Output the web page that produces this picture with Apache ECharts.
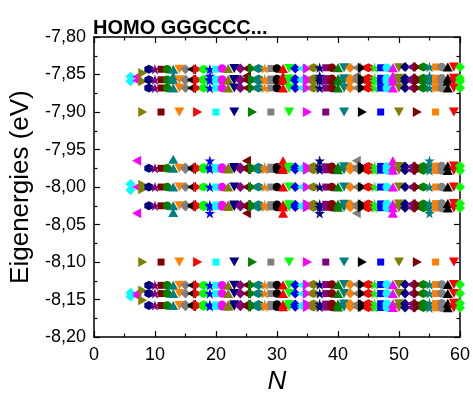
<!DOCTYPE html>
<html><head><meta charset="utf-8">
<script src="https://cdn.jsdelivr.net/npm/echarts@6/dist/echarts.min.js"></script>
<style>html,body{margin:0;padding:0;background:#fff}#c{width:473px;height:400px}</style>
</head><body><div id="c"></div>
<script>
// N values (one series per N)
const N = [6,7,8,9,10,11,12,13,14,15,16,17,18,19,20,21,22,23,24,25,26,27,28,29,30,31,32,33,34,35,36,37,38,39,40,41,42,43,44,45,46,47,48,49,50,51,52,53,54,55,56,57,58,59,60];
// eigen-energy levels (eV), one entry per N above (null = no level)
// rows grouped: N6-8 | N9-14 | N15-24 | N25-34 | N35-44 | N45-54 | N55-60
const lvA = [null,null,null,
  -7.843,-7.843,-7.843,-7.843,-7.843,-7.843,
  -7.843,-7.843,-7.843,-7.843,-7.843,-7.843,-7.842,-7.842,-7.842,-7.842,
  -7.842,-7.842,-7.842,-7.842,-7.842,-7.842,-7.842,-7.842,-7.842,-7.842,
  -7.842,-7.841,-7.841,-7.841,-7.841,-7.841,-7.841,-7.841,-7.841,-7.841,
  -7.841,-7.841,-7.841,-7.841,-7.841,-7.841,-7.840,-7.840,-7.840,-7.840,
  -7.840,-7.840,-7.840,-7.840,-7.840,-7.840];
const lvB1 = [-7.853,-7.853,-7.848,
  -7.857,-7.857,-7.857,-7.857,-7.857,-7.857,
  -7.8565,-7.8565,-7.8565,-7.8565,-7.8565,-7.8565,-7.8565,-7.8565,-7.8565,-7.8565,
  -7.856,-7.856,-7.856,-7.856,-7.856,-7.856,-7.856,-7.856,-7.856,-7.856,
  -7.8555,-7.8555,-7.8555,-7.8555,-7.8555,-7.8555,-7.8555,-7.8555,-7.8555,-7.8555,
  -7.855,-7.855,-7.855,-7.855,-7.855,-7.855,-7.855,-7.855,-7.855,-7.855,
  -7.855,-7.855,-7.855,-7.855,-7.855,-7.855];
const lvB2 = [null,null,null,
  null,null,null,null,null,null,
  -7.8575,-7.8575,-7.8575,-7.8575,-7.8575,-7.8575,-7.8575,-7.8575,-7.8575,-7.8575,
  -7.858,-7.858,-7.858,-7.858,-7.858,-7.858,-7.858,-7.858,-7.858,-7.858,
  -7.8585,-7.8585,-7.8585,-7.8585,-7.8585,-7.8585,-7.8585,-7.8585,-7.8585,-7.8585,
  -7.859,-7.859,-7.859,-7.859,-7.859,-7.859,-7.859,-7.859,-7.859,-7.859,
  -7.859,-7.859,-7.859,-7.859,-7.859,-7.859];
const lvBx = [null,null,null,
  null,null,null,null,-7.852,null,
  null,null,null,null,-7.852,null,null,null,null,null,
  -7.852,null,null,null,null,null,-7.852,null,null,null,
  null,null,-7.852,null,null,null,null,null,-7.852,null,
  null,null,null,null,-7.852,null,null,null,null,null,
  -7.852,null,null,null,null,null];
const lvC = [-7.859,-7.858,-7.859,
  -7.868,-7.868,-7.868,-7.868,-7.868,-7.868,
  -7.868,-7.868,-7.868,-7.868,-7.868,-7.868,-7.868,-7.868,-7.868,-7.868,
  -7.868,-7.868,-7.868,-7.868,-7.868,-7.868,-7.868,-7.868,-7.868,-7.868,
  -7.868,-7.868,-7.868,-7.868,-7.868,-7.868,-7.868,-7.868,-7.868,-7.868,
  -7.868,-7.868,-7.868,-7.868,-7.868,-7.868,-7.868,-7.868,-7.868,-7.868,
  -7.868,-7.868,-7.868,-7.868,-7.868,-7.868];
const lvD = [null,null,-7.900,
  null,null,-7.900,null,null,-7.900,
  null,null,-7.900,null,null,-7.900,null,null,-7.900,null,
  null,-7.900,null,null,-7.900,null,null,-7.900,null,null,
  -7.900,null,null,-7.900,null,null,-7.900,null,null,-7.900,
  null,null,-7.900,null,null,-7.900,null,null,-7.900,null,
  null,-7.900,null,null,-7.900,null];
const lvEx = [null,-7.965,null,
  null,null,null,null,-7.963,null,
  null,null,null,null,-7.965,null,null,null,null,null,
  -7.965,null,null,null,null,null,-7.965,null,null,null,
  null,null,-7.965,null,null,null,null,null,-7.965,null,
  null,null,null,null,-7.965,null,null,null,null,null,
  -7.965,null,null,null,null,null];
const lvE1 = [null,null,null,
  -7.975,-7.975,-7.975,-7.975,-7.975,-7.975,
  -7.974,-7.974,-7.974,-7.974,-7.974,-7.974,-7.974,-7.974,-7.974,-7.974,
  -7.9735,-7.9735,-7.9735,-7.9735,-7.9735,-7.9735,-7.9735,-7.9735,-7.9735,-7.9735,
  -7.973,-7.973,-7.973,-7.973,-7.973,-7.973,-7.973,-7.973,-7.973,-7.973,
  -7.9725,-7.9725,-7.9725,-7.9725,-7.9725,-7.9725,-7.9725,-7.9725,-7.9725,-7.9725,
  -7.972,-7.972,-7.972,-7.972,-7.972,-7.972];
const lvE2 = [null,null,null,
  null,null,null,null,null,null,
  -7.976,-7.976,-7.976,-7.976,-7.976,-7.976,-7.976,-7.976,-7.976,-7.976,
  -7.9765,-7.9765,-7.9765,-7.9765,-7.9765,-7.9765,-7.9765,-7.9765,-7.9765,-7.9765,
  -7.977,-7.977,-7.977,-7.977,-7.977,-7.977,-7.977,-7.977,-7.977,-7.977,
  -7.9775,-7.9775,-7.9775,-7.9775,-7.9775,-7.9775,-7.9775,-7.9775,-7.9775,-7.9775,
  -7.978,-7.978,-7.978,-7.978,-7.978,-7.978];
const lvF = [-7.996,-8.000,-7.997,
  -8.000,-8.000,-8.000,-8.000,-8.000,-8.000,
  -8.000,-8.000,-8.000,-8.000,-8.000,-8.000,-8.000,-8.000,-8.000,-8.000,
  -8.000,-8.000,-8.000,-8.000,-8.000,-8.000,-8.000,-8.000,-8.000,-8.000,
  -8.000,-8.000,-8.000,-8.000,-8.000,-8.000,-8.000,-8.000,-8.000,-8.000,
  -8.000,-8.000,-8.000,-8.000,-8.000,-8.000,-8.000,-8.000,-8.000,-8.000,
  -8.000,-8.000,-8.000,-8.000,-8.000,-8.000];
const lvF2 = [-8.004,null,-8.003,
  null,null,null,null,null,null,
  null,null,null,null,null,null,null,null,null,null,
  null,null,null,null,null,null,null,null,null,null,
  null,null,null,null,null,null,null,null,null,null,
  null,null,null,null,null,null,null,null,null,null,
  null,null,null,null,null,null];
const lvG1 = [null,null,null,
  null,null,null,null,null,null,
  -8.024,-8.024,-8.024,-8.024,-8.024,-8.024,-8.024,-8.024,-8.024,-8.024,
  -8.0235,-8.0235,-8.0235,-8.0235,-8.0235,-8.0235,-8.0235,-8.0235,-8.0235,-8.0235,
  -8.023,-8.023,-8.023,-8.023,-8.023,-8.023,-8.023,-8.023,-8.023,-8.023,
  -8.0225,-8.0225,-8.0225,-8.0225,-8.0225,-8.0225,-8.0225,-8.0225,-8.0225,-8.0225,
  -8.022,-8.022,-8.022,-8.022,-8.022,-8.022];
const lvG2 = [null,null,null,
  -8.025,-8.025,-8.025,-8.025,-8.025,-8.025,
  -8.026,-8.026,-8.026,-8.026,-8.026,-8.026,-8.026,-8.026,-8.026,-8.026,
  -8.0265,-8.0265,-8.0265,-8.0265,-8.0265,-8.0265,-8.0265,-8.0265,-8.0265,-8.0265,
  -8.027,-8.027,-8.027,-8.027,-8.027,-8.027,-8.027,-8.027,-8.027,-8.027,
  -8.0275,-8.0275,-8.0275,-8.0275,-8.0275,-8.0275,-8.0275,-8.0275,-8.0275,-8.0275,
  -8.028,-8.028,-8.028,-8.028,-8.028,-8.028];
const lvGx = [null,-8.035,null,
  null,null,null,null,-8.034,null,
  null,null,null,null,-8.035,null,null,null,null,null,
  -8.035,null,null,null,null,null,-8.035,null,null,null,
  null,null,-8.035,null,null,null,null,null,-8.035,null,
  null,null,null,null,-8.035,null,null,null,null,null,
  -8.035,null,null,null,null,null];
const lvH = [null,null,-8.100,
  null,null,-8.100,null,null,-8.100,
  null,null,-8.100,null,null,-8.100,null,null,-8.100,null,
  null,-8.100,null,null,-8.100,null,null,-8.100,null,null,
  -8.100,null,null,-8.100,null,null,-8.100,null,null,-8.100,
  null,null,-8.100,null,null,-8.100,null,null,-8.100,null,
  null,-8.100,null,null,-8.100,null];
const lvI = [null,null,null,
  -8.131,-8.131,-8.131,-8.131,-8.131,-8.131,
  -8.131,-8.131,-8.131,-8.131,-8.131,-8.131,-8.131,-8.131,-8.131,-8.131,
  -8.1305,-8.1305,-8.1305,-8.1305,-8.1305,-8.1305,-8.1305,-8.1305,-8.1305,-8.1305,
  -8.130,-8.130,-8.130,-8.130,-8.130,-8.130,-8.130,-8.130,-8.130,-8.130,
  -8.130,-8.130,-8.130,-8.130,-8.130,-8.130,-8.130,-8.130,-8.130,-8.130,
  -8.130,-8.130,-8.130,-8.130,-8.130,-8.130];
const lvJ = [-8.141,-8.142,-8.138,
  -8.142,-8.142,-8.142,-8.142,-8.142,-8.142,
  -8.142,-8.142,-8.142,-8.142,-8.142,-8.142,-8.142,-8.142,-8.142,-8.142,
  -8.142,-8.142,-8.142,-8.142,-8.142,-8.142,-8.142,-8.142,-8.142,-8.142,
  -8.142,-8.142,-8.142,-8.142,-8.142,-8.142,-8.142,-8.142,-8.142,-8.142,
  -8.142,-8.142,-8.142,-8.142,-8.142,-8.142,-8.142,-8.142,-8.142,-8.142,
  -8.142,-8.142,-8.142,-8.142,-8.142,-8.142];
const lvK1 = [-8.146,-8.145,-8.151,
  -8.158,-8.158,-8.158,-8.158,-8.158,-8.158,
  -8.157,-8.157,-8.157,-8.157,-8.157,-8.157,-8.157,-8.157,-8.157,-8.157,
  -8.1565,-8.1565,-8.1565,-8.1565,-8.1565,-8.1565,-8.1565,-8.1565,-8.1565,-8.1565,
  -8.156,-8.156,-8.156,-8.156,-8.156,-8.156,-8.156,-8.156,-8.156,-8.156,
  -8.1555,-8.1555,-8.1555,-8.1555,-8.1555,-8.1555,-8.1555,-8.1555,-8.1555,-8.1555,
  -8.155,-8.155,-8.155,-8.155,-8.155,-8.155];
const lvK2 = [null,null,null,
  null,null,null,null,null,null,
  -8.159,-8.159,-8.159,-8.159,-8.159,-8.159,-8.159,-8.159,-8.159,-8.159,
  -8.1595,-8.1595,-8.1595,-8.1595,-8.1595,-8.1595,-8.1595,-8.1595,-8.1595,-8.1595,
  -8.160,-8.160,-8.160,-8.160,-8.160,-8.160,-8.160,-8.160,-8.160,-8.160,
  -8.1605,-8.1605,-8.1605,-8.1605,-8.1605,-8.1605,-8.1605,-8.1605,-8.1605,-8.1605,
  -8.161,-8.161,-8.161,-8.161,-8.161,-8.161];
const xTicks = [0,10,20,30,40,50,60];
const yTicks = ['-7,80','-7,85','-7,90','-7,95','-8,00','-8,05','-8,10','-8,15','-8,20'];

const levels = [lvA,lvB1,lvB2,lvBx,lvC,lvD,lvEx,lvE1,lvE2,lvF,lvF2,lvG1,lvG2,lvGx,lvH,lvI,lvJ,lvK1,lvK2];

// Origin-like style cycles
const COLORS = ['#000000','#FF0000','#00FF00','#0000FF','#00FFFF','#FF00FF','#808000','#000080','#800080','#800000','#008000','#008080','#FF8000','#808080'];
const STAR = 'path://M50,0L61.23,34.55L97.55,34.55L68.16,55.9L79.39,90.45L50,69.1L20.61,90.45L31.84,55.9L2.45,34.55L38.77,34.55Z';
const SYMS = [
  {s:'rect', z:7},
  {s:'circle', z:8.5},
  {s:'path://M50,0L100,100L0,100Z', z:[10,9]},
  {s:'path://M0,0L100,0L50,100Z', z:[10,9]},
  {s:'diamond', z:10},
  {s:'path://M0,50L100,0L100,100Z', z:[9,10]},
  {s:'path://M0,0L100,50L0,100Z', z:[9,10]},
  {s:'path://M50,0L93.3,25L93.3,75L50,100L6.7,75L6.7,25Z', z:9},
  {s:STAR, z:10.5}
];

const series = N.map((n, i) => {
  const c = COLORS[((n - 16) % 14 + 14) % 14];
  const sy = SYMS[((n - 11) % 9 + 9) % 9];
  const data = [];
  levels.forEach(lv => { if (lv[i] !== null) data.push([n, lv[i]]); });
  return {
    type: 'scatter', name: 'N=' + n, data,
    symbol: sy.s, symbolSize: sy.z,
    itemStyle: {color: c, opacity: 1},
    silent: true, animation: false
  };
});

const axisCommon = {
  axisLine: {show: true, onZero: false, lineStyle: {color: '#000', width: 1.5}},
  axisTick: {show: true, inside: true, length: 6, lineStyle: {color: '#000', width: 1.2}},
  minorTick: {show: true, splitNumber: 2, length: 3.5, lineStyle: {color: '#000', width: 1.2}},
  splitLine: {show: false}
};
const labelFont = {color: '#000', fontSize: 18, fontFamily: 'Liberation Sans, Arial, sans-serif'};

const chart = echarts.init(document.getElementById('c'), null, {renderer: 'canvas'});
chart.setOption({
  animation: false,
  backgroundColor: '#fff',
  title: {text: 'HOMO GGGCCC...', left: 88, top: 13,
    textStyle: {fontSize: 20, fontWeight: 'bold', color: '#000', fontFamily: 'Liberation Sans, Arial, sans-serif'}},
  grid: {left: 90, right: 11, top: 37, bottom: 61},
  xAxis: [
    Object.assign({type: 'value', position: 'bottom', min: xTicks[0], max: xTicks[xTicks.length-1], interval: 10,
      name: 'N', nameLocation: 'middle', nameGap: 30,
      nameTextStyle: {fontSize: 26, fontStyle: 'italic', color: '#000', fontFamily: 'Liberation Sans, Arial, sans-serif'},
      axisLabel: Object.assign({margin: 9}, labelFont)}, axisCommon),
    Object.assign({type: 'value', position: 'top', min: 0, max: 60, interval: 10, axisLabel: {show: false}}, axisCommon)
  ],
  yAxis: [
    Object.assign({type: 'value', position: 'left', min: -8.2, max: -7.8, interval: 0.05,
      name: 'Eigenergies (eV)', nameLocation: 'middle', nameGap: 54, nameRotate: 90,
      nameTextStyle: {fontSize: 26, color: '#000', fontFamily: 'Liberation Sans, Arial, sans-serif'},
      axisLabel: Object.assign({margin: 8, formatter: v => {
        const k = Math.round((-7.8 - v) / 0.05);
        return yTicks[k] !== undefined ? yTicks[k] : v.toFixed(2).replace('.', ',');
      }}, labelFont)}, axisCommon),
    Object.assign({type: 'value', position: 'right', min: -8.2, max: -7.8, interval: 0.05, axisLabel: {show: false}}, axisCommon)
  ],
  series
});
</script></body></html>
